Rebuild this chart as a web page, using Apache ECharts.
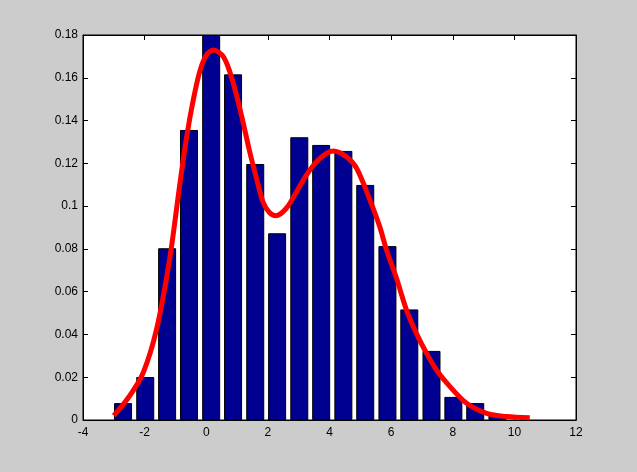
<!DOCTYPE html>
<html>
<head>
<meta charset="utf-8">
<script src="https://cdn.jsdelivr.net/npm/echarts@6/dist/echarts.min.js"></script>
<style>
html,body{margin:0;padding:0;background:#cccccc;}
#chart{width:637px;height:472px;}
</style>
</head>
<body>
<div id="chart"></div>
<script>
// Histogram bin centers and heights
const binCenters = [-2.70, -1.98, -1.27, -0.56, 0.16, 0.87, 1.59, 2.30, 3.02, 3.73, 4.45, 5.16, 5.88, 6.59, 7.31, 8.02, 8.73, 9.45];
const binValues  = [0.0079, 0.0201, 0.0803, 0.1356, 0.18, 0.1616, 0.1197, 0.0873, 0.1322, 0.1286, 0.1258, 0.1099, 0.0813, 0.0517, 0.0323, 0.0108, 0.0079, 0.0025];

// Density curve
const curveX = [-3.0, -2.5, -2.05, -1.62, -1.19, -0.86, -0.64, -0.43, -0.21, 0.0, 0.24, 0.55, 0.76, 0.98, 1.19, 1.41, 1.63, 1.84, 2.05, 2.26, 2.6, 2.93, 3.25, 3.58, 3.9, 4.12, 4.55, 4.88, 5.31, 5.63, 5.85, 6.18, 6.5, 6.82, 7.15, 7.47, 7.91, 8.45, 9.1, 9.75, 10.5];
const curveY = [0.002, 0.011, 0.022, 0.042, 0.075, 0.110, 0.132, 0.149, 0.163, 0.1705, 0.173, 0.170, 0.163, 0.152, 0.1395, 0.1254, 0.113, 0.102, 0.097, 0.0955, 0.099, 0.1067, 0.1145, 0.1208, 0.1247, 0.1258, 0.1231, 0.1177, 0.1029, 0.0904, 0.0795, 0.066, 0.0514, 0.0405, 0.0312, 0.0234, 0.0156, 0.0078, 0.0031, 0.0016, 0.001];

const xTicks = {min: -4, max: 12, interval: 2};
const yTicks = {min: 0, max: 0.18, interval: 0.02};

const chart = echarts.init(document.getElementById('chart'));
const font = {fontFamily: 'Liberation Sans, Arial, sans-serif', fontSize: 12, color: '#000'};
const axisBase = {
  type: 'value',
  axisLine: {show: true, onZero: false, lineStyle: {color: '#000', width: 1}},
  axisTick: {show: true, inside: true, length: 5, lineStyle: {color: '#000', width: 1}},
  splitLine: {show: false}
};
chart.setOption({
  backgroundColor: '#cccccc',
  animation: false,
  grid: {left: 83, right: 61, top: 35, bottom: 52, show: true, backgroundColor: '#ffffff', borderColor: '#000', borderWidth: 1},
  xAxis: [
    Object.assign({}, axisBase, {position: 'bottom', min: xTicks.min, max: xTicks.max, interval: xTicks.interval,
      axisLabel: Object.assign({margin: 7}, font)}),
    Object.assign({}, axisBase, {position: 'top', min: xTicks.min, max: xTicks.max, interval: xTicks.interval,
      axisLabel: {show: false}})
  ],
  yAxis: [
    Object.assign({}, axisBase, {position: 'left', min: yTicks.min, max: yTicks.max, interval: yTicks.interval,
      axisLabel: Object.assign({margin: 5, formatter: v => String(+v.toFixed(2))}, font)}),
    Object.assign({}, axisBase, {position: 'right', min: yTicks.min, max: yTicks.max, interval: yTicks.interval,
      axisLabel: {show: false}})
  ],
  series: [
    {
      type: 'bar',
      xAxisIndex: 0, yAxisIndex: 0,
      data: binCenters.map((c, i) => [c, binValues[i]]),
      barWidth: 18,
      itemStyle: {color: '#000090', borderColor: '#000', borderWidth: 1},
      z: 2
    },
    {
      type: 'line',
      xAxisIndex: 0, yAxisIndex: 0,
      data: curveX.map((x, i) => [x, curveY[i]]),
      smooth: 0.3,
      showSymbol: false,
      lineStyle: {color: '#ff0000', width: 5},
      z: 3
    }
  ]
});
</script>
</body>
</html>
